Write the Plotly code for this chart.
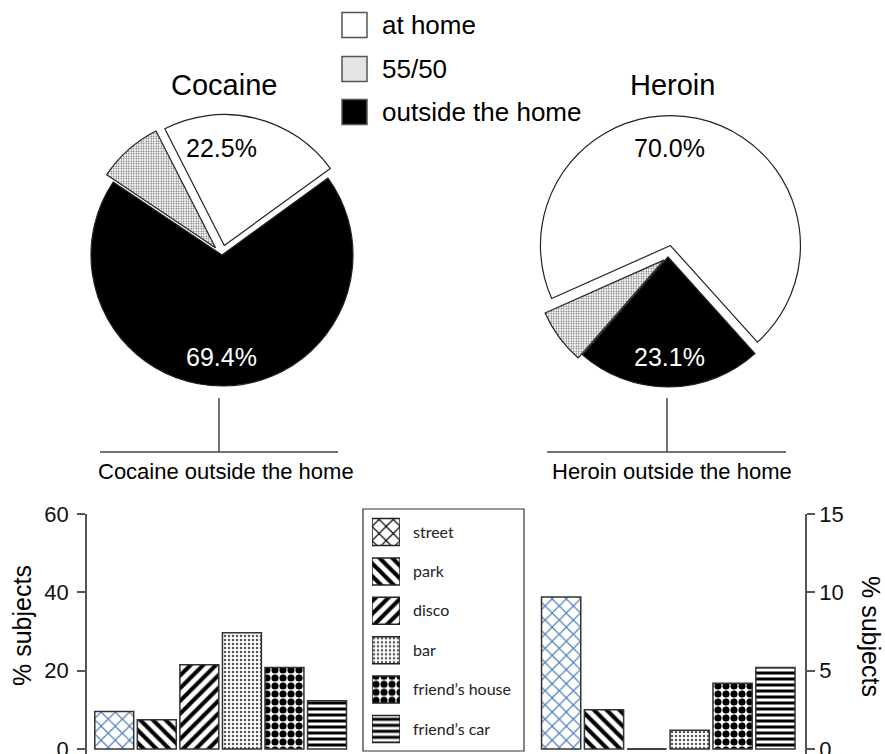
import plotly.graph_objects as go

W, H = 885, 754

# ---- data -------------------------------------------------------------
slice_labels = ["at home", "55/50", "outside the home"]
cocaine_share = [22.5, 8.1, 69.4]
heroin_share = [70.0, 6.9, 23.1]

places = ["street", "park", "disco", "bar", "friend’s house", "friend’s car"]
cocaine_pct = [9.6, 7.5, 21.5, 29.7, 20.8, 12.3]   # left axis (0-60)
heroin_pct = [9.7, 2.5, 0.0, 1.2, 4.2, 5.2]        # right axis (0-15)

left_ticks = [0, 20, 40, 60]
right_ticks = [0, 5, 10, 15]

# ---- styling ----------------------------------------------------------
ARIAL = "Liberation Sans, Arial, sans-serif"
CALIBRI = "Lato, Open Sans, sans-serif"
AXIS = "#555555"

slice_fill = ["white", "white", "black"]
slice_shape = ["", ".", ""]

bar_shape = ["x", "\\", "/", ".", ".", "-"]
bar_fg = ["#4f7fb8", "black", "black", "#555555", "black", "black"]
key_fg = ["black", "black", "black", "#555555", "black", "black"]
bar_size = [10, 9, 9, 4, 8, 6]
bar_solid = [0.22, 0.45, 0.45, 0.3, 0.62, 0.5]


def px_x(p):
    return p / W


def px_y(p):
    return 1 - p / H


def pie_domain(cx, cy, r, pull):
    half = r * (1 + max(pull))
    return dict(x=[px_x(cx - half), px_x(cx + half)],
                y=[px_y(cy + half), px_y(cy - half)])


def pie(values, cx, cy, r, pull, rotation):
    return go.Pie(
        labels=slice_labels, values=values, sort=False,
        direction="counterclockwise", rotation=rotation, pull=pull,
        textinfo="none", hoverinfo="label+percent", showlegend=False,
        automargin=False,
        domain=pie_domain(cx, cy, r, pull),
        marker=dict(colors=slice_fill,
                    line=dict(color="#222222", width=1.2),
                    pattern=dict(shape=slice_shape, fgcolor="#555555",
                                 bgcolor="white", size=2.5, solidity=0.3)),
    )


def pattern(fg):
    return dict(shape=bar_shape, fgcolor=fg, bgcolor="white",
                size=bar_size, solidity=bar_solid, fillmode="replace")


fig = go.Figure()

cocaine_pull = [0.075, 0.075, 0.0]
heroin_pull = [0.09, 0.04, 0.0]
fig.add_trace(pie(cocaine_share, 222, 255, 131, cocaine_pull, -27))
fig.add_trace(pie(heroin_share, 668, 257, 130, heroin_pull, 246))

BAR_W = 0.915
fig.add_trace(go.Bar(
    x=places, y=cocaine_pct, xaxis="x", yaxis="y", width=BAR_W,
    showlegend=False,
    marker=dict(color="white", line=dict(color="#333333", width=1.5),
                pattern=pattern(bar_fg)),
))
fig.add_trace(go.Bar(
    x=places, y=heroin_pct, xaxis="x2", yaxis="y2", width=BAR_W,
    showlegend=False,
    marker=dict(color="white", line=dict(color="#333333", width=1.5),
                pattern=pattern(bar_fg)),
))
# key swatches for the locations
fig.add_trace(go.Bar(
    y=places, x=[1] * len(places), orientation="h", xaxis="x3", yaxis="y3",
    width=0.685, showlegend=False, hoverinfo="y",
    marker=dict(color="white", line=dict(color="#222222", width=1.5),
                pattern=pattern(key_fg)),
))

shapes = []
# zero-height bars are drawn as a flat outline at the baseline
for xa, ya, vals in (("x", "y", cocaine_pct), ("x2", "y2", heroin_pct)):
    for i, v in enumerate(vals):
        if v == 0:
            shapes.append(dict(type="line", xref=xa, yref=ya,
                               x0=i - BAR_W / 2, x1=i + BAR_W / 2, y0=v, y1=v,
                               line=dict(color="#333333", width=1.5)))

# connectors under each pie
for vx, hx0, hx1 in ((219, 100, 338), (667, 547, 786)):
    shapes.append(dict(type="line", xref="paper", yref="paper",
                       x0=px_x(vx), x1=px_x(vx), y0=px_y(398), y1=px_y(452),
                       line=dict(color="#444444", width=1.5)))
    shapes.append(dict(type="line", xref="paper", yref="paper",
                       x0=px_x(hx0), x1=px_x(hx1), y0=px_y(452), y1=px_y(452),
                       line=dict(color="#444444", width=1.5)))

# key box for the locations
shapes.append(dict(type="rect", xref="paper", yref="paper",
                   x0=px_x(363), x1=px_x(524), y0=px_y(751), y1=px_y(509),
                   line=dict(color="#333333", width=1.2)))

# key for the pie slices
key_fill = ["white", "#e4e4e4", "black"]
key_rows = [25, 69, 112]
for fill, yc in zip(key_fill, key_rows):
    shapes.append(dict(type="rect", xref="paper", yref="paper",
                       x0=px_x(342), x1=px_x(367),
                       y0=px_y(yc + 12.5), y1=px_y(yc - 12.5),
                       fillcolor=fill, line=dict(color="#555555", width=1.5)))

annotations = []


def text(s, x, y, size, color="black", xanchor="center", angle=0,
         family=ARIAL):
    annotations.append(dict(text=s, x=px_x(x), y=px_y(y), xref="paper",
                            yref="paper", showarrow=False, xanchor=xanchor,
                            yanchor="middle", textangle=angle,
                            font=dict(family=family, size=size, color=color)))


for lab, yc in zip(slice_labels, key_rows):
    text(lab, 380, yc, 26, xanchor="left")

text("Cocaine", 224, 85, 29)
text("Heroin", 672, 85, 29)

# percentage labels on the main slices
text(f"{cocaine_share[0]:.1f}%", 221, 148, 25)
text(f"{cocaine_share[2]:.1f}%", 221, 357, 25, color="white")
text(f"{heroin_share[0]:.1f}%", 669, 148, 25)
text(f"{heroin_share[2]:.1f}%", 669, 357, 25, color="white")

text("Cocaine outside the home", 226, 471, 22)
text("Heroin outside the home", 672, 471, 22)

text("% subjects", 22, 626, 25, angle=-90)
text("% subjects", 871, 636, 25, angle=90)

tickfont = dict(family=ARIAL, size=22, color="#111111")
yaxis_common = dict(ticks="outside", ticklen=8, tickwidth=1.5, tickcolor=AXIS,
                    showline=True, linecolor=AXIS, linewidth=1.5,
                    showgrid=False, zeroline=False, tickfont=tickfont,
                    ticklabeloverflow="allow",
                    automargin=False, domain=[0, px_y(514)])

fig.update_layout(
    width=W, height=H,
    margin=dict(l=0, r=0, t=0, b=0, pad=0, autoexpand=False),
    paper_bgcolor="white", plot_bgcolor="white",
    showlegend=False,
    xaxis=dict(domain=[px_x(87), px_x(350)], range=[-0.64, 5.54],
               visible=False, anchor="y", automargin=False),
    yaxis=dict(range=[-1.27, 60], tickvals=left_ticks, anchor="x",
               ticklabelstandoff=4, **yaxis_common),
    xaxis2=dict(domain=[px_x(538), px_x(805)], range=[-0.54, 5.69],
                visible=False, anchor="y2", automargin=False),
    yaxis2=dict(range=[-0.3175, 15], tickvals=right_ticks, anchor="x2",
                side="right", **yaxis_common),
    xaxis3=dict(domain=[px_x(372), px_x(400)], range=[0, 1],
                visible=False, anchor="y3", automargin=False),
    yaxis3=dict(domain=[px_y(748.7), px_y(512.3)], type="category",
                range=[5.5, -0.5], side="right", anchor="x3",
                showline=False, showgrid=False, zeroline=False, ticks="",
                ticklabelstandoff=12, automargin=False,
                tickfont=dict(family=CALIBRI, size=16, color="#222222")),
    shapes=shapes,
    annotations=annotations,
)

fig.write_html("out.html")
